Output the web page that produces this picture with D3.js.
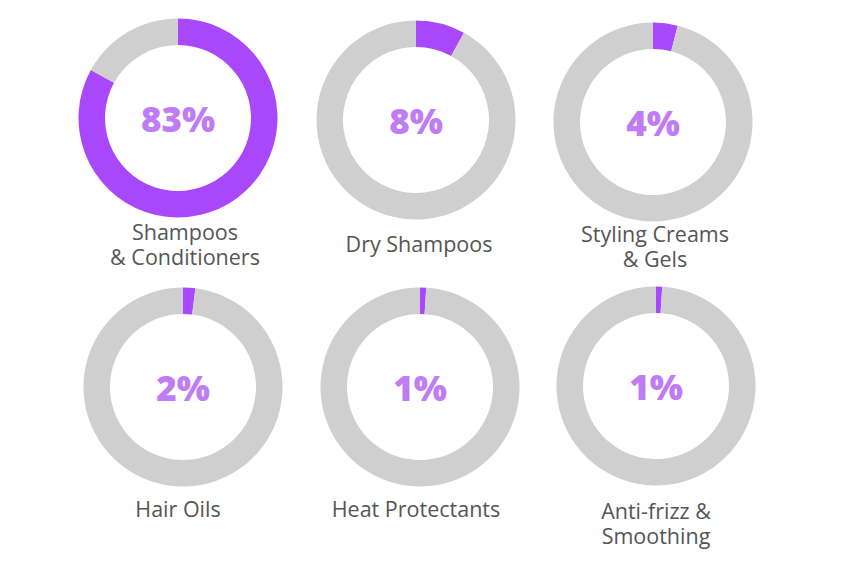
<!DOCTYPE html>
<html>
<head>
<meta charset="utf-8">
<script src="https://cdn.jsdelivr.net/npm/d3@7"></script>
<style>
  body { margin: 0; background: #fff; }
  text { font-family: "Open Sans", sans-serif; }
</style>
</head>
<body>
<div id="chart"></div>
<script>
var width = 844,
    height = 568;

// data
var categories = [
  ["Shampoos", "& Conditioners"],
  ["Dry Shampoos"],
  ["Styling Creams", "& Gels"],
  ["Hair Oils"],
  ["Heat Protectants"],
  ["Anti-frizz &", "Smoothing"]
];
var shares = [83, 8, 4, 2, 1, 1];

// layout: donut centres and label anchors, cell by cell
var cellX = [178, 416, 653, 183, 420, 656],
    cellY = [118, 120, 122, 387, 387, 386],
    labelX = [185, 419, 655, 178, 416, 656],
    labelY = [240, 252, 242, 517, 517, 519],
    outerR = 99.5,
    innerR = 73;

var color = d3.scaleOrdinal()
    .domain(["share", "rest"])
    .range(["#a947fb", "#d0cfcf"]);

var pie = d3.pie()
    .sort(null)
    .value(function(d) { return d.v; });

var arc = d3.arc()
    .innerRadius(innerR)
    .outerRadius(outerR);

var svg = d3.select("#chart").append("svg")
    .attr("width", width)
    .attr("height", height);

var cells = svg.selectAll("g.donut")
    .data(shares)
    .enter().append("g")
    .attr("class", "donut")
    .attr("transform", function(d, i) {
      return "translate(" + cellX[i] + "," + cellY[i] + ")";
    });

cells.selectAll("path")
    .data(function(d) { return pie([{k: "share", v: d}, {k: "rest", v: 100 - d}]); })
    .enter().append("path")
    .attr("d", arc)
    .attr("fill", function(d) { return color(d.data.k); });

cells.append("text")
    .attr("text-anchor", "middle")
    .attr("y", 14)
    .attr("fill", "#bf7cf5")
    .style("font-size", "35px")
    .style("font-weight", 800)
    .text(function(d) { return d + "%"; });

// category labels, two-line ones as tspans
var labels = svg.selectAll("text.label")
    .data(categories)
    .enter().append("text")
    .attr("class", "label")
    .attr("text-anchor", "middle")
    .attr("fill", "#555555")
    .style("font-size", "21.5px");

labels.selectAll("tspan")
    .data(function(d, i) { return d.map(function(t) { return {t: t, i: i}; }); })
    .enter().append("tspan")
    .attr("x", function(d) { return labelX[d.i]; })
    .attr("y", function(d, j) { return labelY[d.i] + j * 25; })
    .text(function(d) { return d.t; });
</script>
</body>
</html>
